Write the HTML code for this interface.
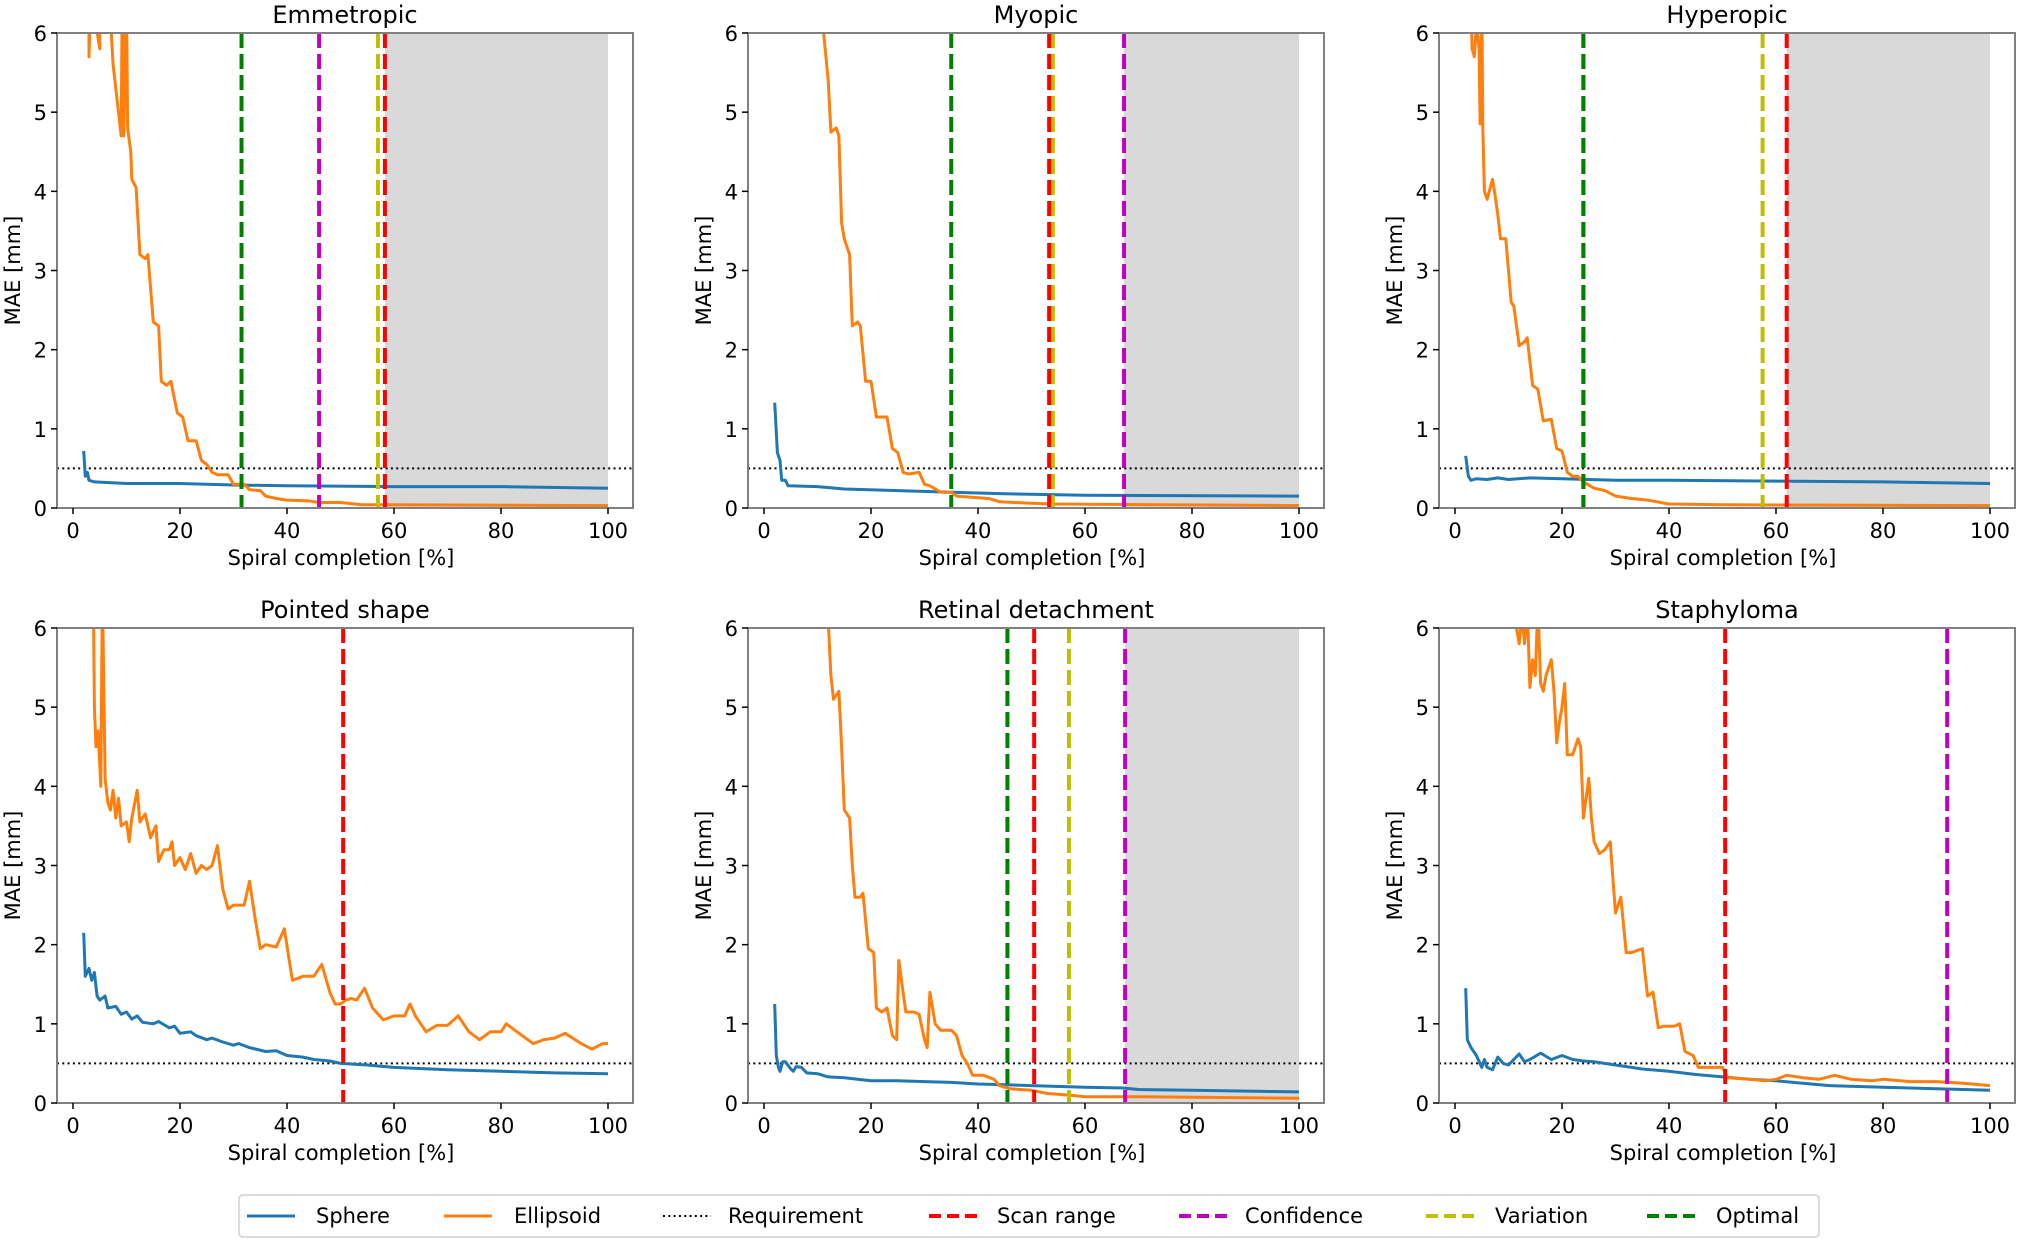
<!DOCTYPE html>
<html><head><meta charset="utf-8">
<style>
html,body{margin:0;padding:0;background:#fff;}
svg{display:block;font-family:"DejaVu Sans","Liberation Sans",sans-serif;}
</style></head>
<body>
<svg id="fig" width="2018" height="1239" viewBox="0 0 2018 1239" xmlns="http://www.w3.org/2000/svg"></svg>
<script>
const panelTitles = ["Emmetropic","Myopic","Hyperopic","Pointed shape","Retinal detachment","Staphyloma"];
const xTicks = [0,20,40,60,80,100];
const yTicks = [0,1,2,3,4,5,6];
const requirement = 0.5;
const scanRange  = [58.3, 53.3, 62, 50.5, 50.5, 50.5];
const confidence = [46, 67.3, 24, null, 67.5, 92];
const variation  = [57, 54, 57.5, null, 57, null];
const optimal    = [31.5, 35, 24, null, 45.5, null];
const shadeStart = [58.3, 67.3, 62, null, 67.5, null];

const sphX = [
 [2,2.3,2.7,3,4,10,20,30,40,60,80,100],
 [2,2.5,3,3.3,4,4.5,10,15,25,35,45,60,100],
 [2,2.5,3,4,6,8,10,14,20,30,40,60,80,100],
 [2,2.3,3,3.5,4,4.5,5,6,6.5,8,9,10,11,12,13,15,16,18,19,20,22,23,25,26,28,30,31,33,36,38,40,43,45,48,50,55,60,70,80,90,100],
 [2,2.3,2.7,3,3.5,4,5,5.5,6,7,8,10,12,15,20,25,30,35,40,45,50,60,67,70,80,100],
 [2,2.3,3,4,5,5.5,6,7,8,9,10,12,13,14,16,18,20,22,24,26,30,35,40,45,50,55,60,65,70,80,90,100]
];
const sphY = [
 [0.72,0.4,0.45,0.35,0.33,0.31,0.31,0.29,0.28,0.27,0.27,0.25],
 [1.33,0.7,0.6,0.35,0.35,0.28,0.27,0.24,0.22,0.2,0.18,0.16,0.15],
 [0.66,0.4,0.35,0.37,0.36,0.38,0.36,0.38,0.37,0.35,0.35,0.34,0.33,0.31],
 [2.15,1.6,1.7,1.55,1.65,1.35,1.3,1.35,1.2,1.22,1.12,1.15,1.06,1.1,1.02,1.0,1.03,0.95,0.97,0.88,0.9,0.85,0.8,0.82,0.77,0.73,0.75,0.7,0.65,0.66,0.6,0.58,0.55,0.53,0.5,0.48,0.45,0.42,0.4,0.38,0.37],
 [1.25,0.6,0.45,0.4,0.52,0.52,0.43,0.4,0.46,0.45,0.38,0.37,0.33,0.32,0.28,0.28,0.27,0.26,0.24,0.23,0.22,0.2,0.19,0.17,0.16,0.14],
 [1.45,0.8,0.7,0.6,0.45,0.55,0.45,0.42,0.58,0.5,0.48,0.62,0.52,0.55,0.63,0.55,0.6,0.55,0.53,0.52,0.48,0.43,0.4,0.36,0.33,0.3,0.28,0.25,0.22,0.2,0.18,0.16]
];
const ellX = [
 [3,3,3.2,3.3,5,5,5.1,7,7.5,8.5,9,9.2,9.5,10,10.2,10.8,11,11.8,12.5,13.5,14,15,16,16.5,17.5,18.3,19.5,20.5,21.5,23,24,25,26,27,29,30,32,33,35,36,38,40,44,46,50,54,60,100],
 [11,12,12.5,13.5,14,14.5,15,16,16.5,17.5,18,19,20,21,23,24,25,26,27,29,30,31,33,35,36,40,42,44,50,54,100],
 [3,3.2,3.6,4,4.5,4.7,5,5.2,5.5,6,7,7.5,8,8.5,9.5,10.5,11,12,13,13.5,14.5,15.5,16.5,18,19,20,21,22,23,24,26,28,30,33,36,40,50,100],
 [3.8,4,4.3,4.7,5.2,5.5,6,6.5,7,7.5,8,8.5,9,10,10.5,11,12,12.5,13.5,14.5,15.5,16,17,18,18.5,19,20,21,22,23,24,25,26,27,28,29,30,31,32,33,34,35,36,38,39.5,41,43,45,46.5,48,49,50,51,52,53,54.5,56,58,60,62,63,64,66,68,70,72,74,76,78,80,81,83,86,88,90,92,95,97,99,100],
 [12,12.5,13,14,14.5,15,16,16.5,17,18,18.5,19.5,20.5,21,22,23,24,24.8,25.2,26,26.5,28,29,30,30.5,31,32,33,35,36,37,38,39,41,43,44,46,50,53,57,60,70,100],
 [11.5,12,12.5,13,13.5,14,14.5,15,15.5,16,16.5,17,18,18.5,19,19.5,20,20.5,21,22,23,23.5,24,25,25.5,26,27,28,29,30,31,32,33,35,36,37,38,39,41,42,43,44.5,45.5,50,51,55,58,60,62,65,68,71,74,78,80,85,90,95,100]
];
const ellY = [
 [6.5,5.7,6.2,6.5,5.8,6.5,6.5,6.2,5.6,5.0,4.7,6.5,4.7,6.5,4.8,4.5,4.15,4.05,3.2,3.15,3.2,2.35,2.3,1.6,1.55,1.6,1.2,1.15,0.85,0.85,0.6,0.55,0.45,0.42,0.42,0.3,0.3,0.23,0.22,0.15,0.12,0.1,0.09,0.07,0.07,0.04,0.04,0.03],
 [6.1,5.4,4.75,4.8,4.7,3.6,3.4,3.2,2.3,2.35,2.3,1.6,1.6,1.15,1.15,0.75,0.7,0.45,0.43,0.45,0.3,0.28,0.2,0.2,0.15,0.13,0.12,0.08,0.06,0.05,0.03],
 [6.3,5.8,5.7,6.1,5.8,4.85,6.5,4.8,4.0,3.9,4.15,3.95,3.7,3.4,3.4,2.6,2.55,2.05,2.1,2.15,1.55,1.5,1.1,1.12,0.75,0.72,0.45,0.4,0.4,0.33,0.25,0.22,0.15,0.12,0.1,0.05,0.04,0.03],
 [6.5,5.0,4.5,4.7,4.0,6.5,4.1,3.8,3.7,3.95,3.6,3.85,3.5,3.55,3.3,3.6,3.95,3.55,3.65,3.35,3.5,3.05,3.2,3.2,3.3,3.0,3.1,2.95,3.15,2.9,3.0,2.95,3.0,3.25,2.7,2.45,2.5,2.5,2.5,2.8,2.35,1.95,2.0,1.97,2.2,1.55,1.6,1.6,1.75,1.4,1.25,1.25,1.3,1.32,1.3,1.45,1.2,1.05,1.1,1.1,1.25,1.1,0.9,0.98,0.98,1.1,0.9,0.8,0.9,0.9,1.0,0.9,0.75,0.8,0.82,0.88,0.75,0.68,0.75,0.75],
 [6.1,5.4,5.1,5.2,4.5,3.7,3.6,3.0,2.6,2.6,2.65,1.95,1.9,1.2,1.15,1.2,0.85,0.8,1.8,1.4,1.15,1.15,1.12,0.8,0.7,1.4,1.0,0.92,0.92,0.85,0.6,0.5,0.35,0.35,0.3,0.22,0.18,0.16,0.12,0.1,0.08,0.08,0.06],
 [6.0,5.8,6.2,5.8,6.3,5.25,5.6,5.4,6.3,5.3,5.2,5.4,5.6,5.2,4.55,4.8,5.0,5.3,4.4,4.4,4.6,4.5,3.6,4.1,3.6,3.3,3.15,3.2,3.3,2.4,2.6,1.9,1.9,1.95,1.35,1.4,0.95,0.97,0.97,1.0,0.65,0.6,0.45,0.45,0.32,0.3,0.28,0.3,0.35,0.32,0.3,0.35,0.3,0.28,0.3,0.27,0.27,0.25,0.22]
];

const NS = "http://www.w3.org/2000/svg";
const svg = document.getElementById("fig");
function mk(tag, attrs, parent){
  const e = document.createElementNS(NS, tag);
  for (const k in attrs) e.setAttribute(k, attrs[k]);
  (parent||svg).appendChild(e);
  return e;
}
const colLefts = [57, 748, 1439];
const rowTops = [33, 628];
const plotW = 576, plotH = 475;

panelTitles.forEach((title, p) => {
  const L = colLefts[p % 3], T = rowTops[Math.floor(p / 3)];
  const B = T + plotH, R = L + plotW;
  const xs = v => L + 16 + v * 5.35;
  const ys = v => B - v * (plotH / 6);
  const g = mk("g", {});
  
  
  const clipId = "clip" + p;
  const cp = mk("clipPath", {id: clipId}, g);
  mk("rect", {x: L, y: T, width: plotW, height: plotH}, cp);

  if (shadeStart[p] !== null) {
    const r = mk("rect", {x: xs(shadeStart[p]), y: T, width: xs(100) - xs(shadeStart[p]), height: plotH, fill: "#d9d9d9"}, g);
    
    
  }
  const req = mk("line", {x1: L, x2: R, y1: ys(requirement), y2: ys(requirement), stroke: "#000", "stroke-width": 2, "stroke-dasharray": "2 3.3"}, g);
  
  

  function series(xArr, yArr, color, name){
    const d = xArr.map((x, i) => (i ? "L" : "M") + xs(x).toFixed(1) + " " + ys(yArr[i]).toFixed(1)).join(" ");
    const path = mk("path", {d: d, fill: "none", stroke: color, "stroke-width": 3, "stroke-linejoin": "round", "clip-path": "url(#" + clipId + ")"}, g);
    
    
  }
  series(sphX[p], sphY[p], "#1f77b4", "sphere-line");
  series(ellX[p], ellY[p], "#ff7f0e", "ellipsoid-line");

  function vline(v, color, name){
    if (v === null) return;
    const l = mk("line", {x1: xs(v), x2: xs(v), y1: T, y2: B, stroke: color, "stroke-width": 4, "stroke-dasharray": "15 6"}, g);
    
    
  }
  vline(confidence[p], "#bf00bf", "confidence-line");
  vline(optimal[p], "#008000", "optimal-line");
  vline(variation[p], "#bfbf00", "variation-line");
  vline(scanRange[p], "#ff0000", "scan-range-line");

  const frame = mk("rect", {x: L, y: T, width: plotW, height: plotH, fill: "none", stroke: "#808080", "stroke-width": 2}, g);
  
  

  yTicks.forEach(t => {
    mk("line", {x1: L - 6, x2: L, y1: ys(t), y2: ys(t), stroke: "#000", "stroke-width": 1.5}, g);
    const tx = mk("text", {x: L - 10, y: ys(t) + 8, "text-anchor": "end", "font-size": 21, fill: "#000"}, g);
    tx.textContent = t;
    
    
  });
  xTicks.forEach(t => {
    mk("line", {x1: xs(t), x2: xs(t), y1: B, y2: B + 6, stroke: "#000", "stroke-width": 1.5}, g);
    const tx = mk("text", {x: xs(t), y: B + 30, "text-anchor": "middle", "font-size": 21, fill: "#000"}, g);
    tx.textContent = t;
    
    
  });
  const xl = mk("text", {x: L + plotW / 2 - 4, y: B + 57, "text-anchor": "middle", "font-size": 21, fill: "#000"}, g);
  xl.textContent = "Spiral completion [%]";
  
  
  const yc = T + plotH / 2;
  const yl = mk("text", {x: L - 37, y: yc, "text-anchor": "middle", "font-size": 21, fill: "#000", transform: "rotate(-90 " + (L - 37) + " " + yc + ")"}, g);
  yl.textContent = "MAE [mm]";
  
  
  const tt = mk("text", {x: L + plotW / 2, y: T - 10, "text-anchor": "middle", "font-size": 24, fill: "#000"}, g);
  tt.textContent = title;
  
  
});

const legendLabels = ["Sphere","Ellipsoid","Requirement","Scan range","Confidence","Variation","Optimal"];
const legendColors = ["#1f77b4","#ff7f0e","#000","#ff0000","#bf00bf","#bfbf00","#008000"];
const legendDash = ["", "", "2 3.3", "12 6", "12 6", "12 6", "12 6"];
const legendWidths = [3, 3, 2, 4, 4, 4, 4];
const legendHandleX = [247, 444, 663, 929, 1179, 1426, 1647];
const legendTextX = [316, 514, 728, 997, 1245, 1495, 1716];
const lg = mk("g", {});


mk("rect", {x: 239, y: 1195, width: 1580, height: 42, rx: 4, fill: "#fff", stroke: "#d0d0d0", "stroke-width": 1.5}, lg);
legendLabels.forEach((lab, i) => {
  const ln = mk("line", {x1: legendHandleX[i], x2: legendHandleX[i] + 48, y1: 1216, y2: 1216, stroke: legendColors[i], "stroke-width": legendWidths[i], "stroke-dasharray": legendDash[i]}, lg);
  
  
  const t = mk("text", {x: legendTextX[i], y: 1223, "font-size": 21, fill: "#000"}, lg);
  t.textContent = lab;
  
  
});
</script>
</body></html>
